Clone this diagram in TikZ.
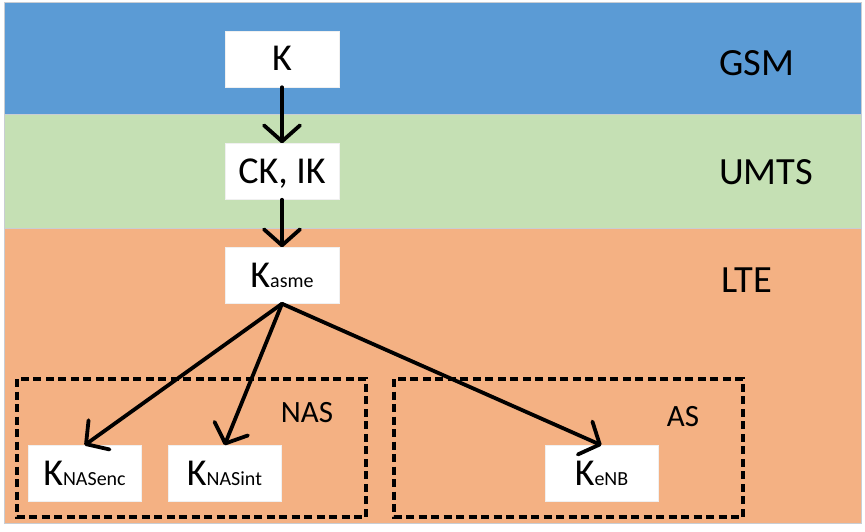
\documentclass[tikz,border=0pt]{standalone}
\usepackage{fontspec}
\setmainfont{Carlito}
\usetikzlibrary{arrows.meta}
\definecolor{gsmblue}{HTML}{5B9BD5}
\definecolor{umtsgreen}{HTML}{C5E0B4}
\definecolor{lteorange}{HTML}{F4B183}
\definecolor{bandedge}{HTML}{C9CDD3}
\tikzset{
  band/.style={draw=bandedge, line width=1pt},
  keybox/.style={fill=white, draw=white!94!black, line width=0.5pt, inner sep=0pt,
    minimum width=114pt, minimum height=56pt, font=\fontsize{38}{40}\selectfont,
    text height=23pt, text depth=0pt},
  techlabel/.style={anchor=west, inner sep=0pt, font=\fontsize{38.5}{42}\selectfont},
  grouplabel/.style={inner sep=0pt, font=\fontsize{31}{34}\selectfont},
  groupbox/.style={draw=black, line width=3.5pt, dash pattern=on 8pt off 4.5pt},
  keyarrow/.style={draw=black, line width=3.8pt, line cap=round,
    -{Straight Barb[length=16pt, width=36pt, line width=3.8pt, round]}},
}
\newcommand{\subk}[1]{{\fontsize{20}{22}\selectfont #1}}
\begin{document}
\begin{tikzpicture}[x=1pt, y=-1pt]
  \useasboundingbox (0,0) rectangle (865,532);
  % bands
  \path[band, fill=gsmblue] (4,3) rectangle (861,115);
  \path[band, fill=umtsgreen] (4,115) rectangle (861,228);
  \path[band, fill=lteorange] (4,228) rectangle (861,523);
  % technology labels
  \node[techlabel] (gsm) at (719,63) {GSM};
  \node[techlabel] (umts) at (719,172) {UMTS};
  \node[techlabel] (lte) at (721,280) {LTE};
  % group boxes
  \draw[groupbox] (17,379) rectangle (366,517);
  \draw[groupbox] (394,379) rectangle (743,517);
  \node[grouplabel] (nas) at (307,413) {NAS};
  \node[grouplabel] (as) at (683,417) {AS};
  % key boxes
  \node[keybox] (k) at (282,59) {K};
  \node[keybox] (ckik) at (282,171.5) {CK, IK};
  \node[keybox] (kasme) at (282,275.5) {K\subk{asme}};
  \node[keybox, minimum width=113pt] (knasenc) at (84.5,473.5) {K\subk{NASenc}};
  \node[keybox, minimum width=113pt] (knasint) at (224.5,473.5) {K\subk{NASint}};
  \node[keybox, minimum width=113pt] (kenb) at (601.5,473.5) {K\subk{eNB}};
  % connectors
  \draw[keyarrow] (k.south) -- (ckik.north);
  \draw[keyarrow] (ckik.south) -- (kasme.north);
  \draw[keyarrow] (kasme.south) -- (knasenc.north);
  \draw[keyarrow] (kasme.south) -- (knasint.north);
  \draw[keyarrow] (kasme.south) -- (kenb.north);
\end{tikzpicture}
\end{document}
